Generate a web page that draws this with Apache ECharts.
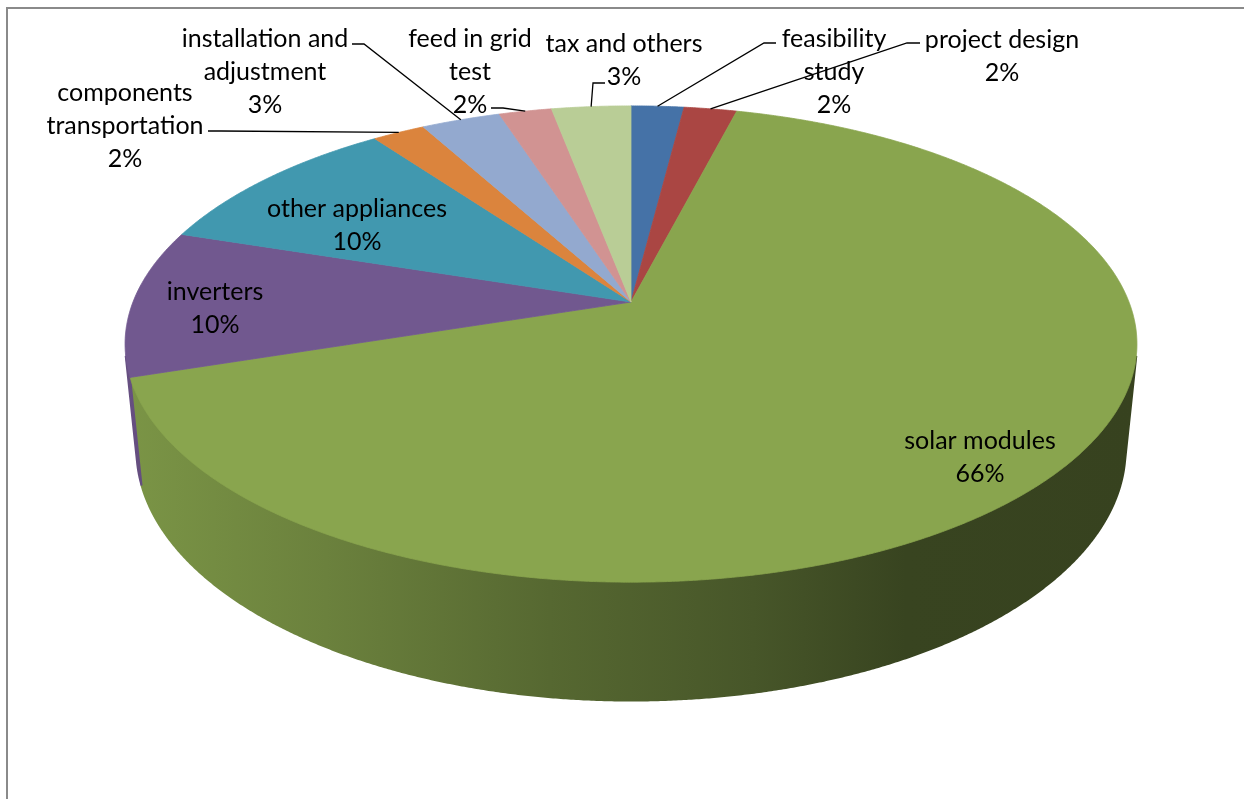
<!DOCTYPE html>
<html>
<head>
<meta charset="utf-8">
<script src="https://cdn.jsdelivr.net/npm/echarts@6/dist/echarts.min.js"></script>
<style>
  html, body { margin: 0; padding: 0; background: #ffffff; }
  #chart { width: 1244px; height: 799px; }
</style>
</head>
<body>
<div id="chart"></div>
<script>
// Cost breakdown of a PV installation (percent of total)
const categories = [
  'feasibility study', 'project design', 'solar modules', 'inverters',
  'other appliances', 'components transportation', 'installation and adjustment',
  'feed in grid test', 'tax and others'
];
const shares = [2, 2, 66, 10, 10, 2, 3, 2, 3];
const labelLines = [
  ['feasibility', 'study'], ['project design'], ['solar modules'], ['inverters'],
  ['other appliances'], ['components', 'transportation'], ['installation and', 'adjustment'],
  ['feed in grid', 'test'], ['tax and others']
];
const colors = ['#4572A7', '#AA4643', '#89A54E', '#71588F', '#4198AF', '#DB843D', '#93A9CF', '#D19392', '#B9CD96'];

// 3D disc geometry: centre of the top face, radius, thickness, tilt and eye distance
const pie = { cx: 631, cy: 302, radius: 498, depth: 120, tiltDeg: 27.6, eye: 2501 };

// label blocks (centre of text) and leader-line start/elbow for the small slices
const labelLayout = {
  'feasibility study':           { at: [834, 72],  leader: [[776, 43], [764, 43]] },
  'project design':              { at: [1002, 56], leader: [[920, 43], [907, 43]] },
  'solar modules':               { at: [980, 457] },
  'inverters':                   { at: [215, 308] },
  'other appliances':            { at: [357, 225] },
  'components transportation':   { at: [125, 126], leader: [[208, 131], [221, 131]] },
  'installation and adjustment': { at: [265, 72],  leader: [[352, 44], [364, 44]] },
  'feed in grid test':           { at: [470, 72],  leader: [[491, 108], [503, 108]] },
  'tax and others':              { at: [624, 60],  leader: [[605, 83], [593, 83]] }
};

const FONT = '25px Lato';
const LINE_H = 33;

const tilt = pie.tiltDeg * Math.PI / 180;
const sinE = Math.sin(tilt), cosE = Math.cos(tilt);
const TAU = Math.PI * 2;

// theta: clockwise from 12 o'clock; h: height (0 = top face, negative = below)
function project(theta, r, h) {
  const X = r * Math.sin(theta);
  const Z = -r * Math.cos(theta);
  const v = h * cosE - Z * sinE;
  const w = h * sinE + Z * cosE;
  const s = pie.eye / (pie.eye - w);
  return [pie.cx + X * s, pie.cy - v * s];
}

const total = shares.reduce((a, b) => a + b, 0);
function sliceAngles(i) {
  let before = 0;
  for (let k = 0; k < i; k++) before += shares[k];
  return [before / total * TAU, (before + shares[i]) / total * TAU];
}

function arc(t1, t2, h, out) {
  const n = Math.max(2, Math.ceil((t2 - t1) / (0.25 * Math.PI / 180)));
  for (let k = 0; k <= n; k++) out.push(project(t1 + (t2 - t1) * k / n, pie.radius, h));
  return out;
}

function shade(hex, f) {
  const n = parseInt(hex.slice(1), 16);
  const c = [(n >> 16) & 255, (n >> 8) & 255, n & 255].map(v => Math.round(v * f));
  return 'rgb(' + c.join(',') + ')';
}

// outer wall faces the eye where cos(theta) < -R / (D cos e)
const wallFrom = Math.acos(-pie.radius / (pie.eye * cosE));
const wallTo = TAU - wallFrom;
const xLeft = pie.cx - pie.radius * 1.02, xRight = pie.cx + pie.radius * 1.02;
const wallShade = [[0, 0.9], [0.2, 0.78], [0.42, 0.63], [0.62, 0.52], [0.77, 0.41], [1, 0.4]];

const seriesData = shares.map((v, i) => ({ name: categories[i], value: v }));

function renderWall(params, api) {
  const i = params.dataIndex;
  let [t1, t2] = sliceAngles(i);
  t1 = Math.max(t1, wallFrom); t2 = Math.min(t2, wallTo);
  if (t2 <= t1) return { type: 'group', children: [] };
  const pts = arc(t1, t2, 0, []);
  const bottom = arc(t1, t2, -pie.depth, []).reverse();
  const grad = {
    type: 'linear', x: xLeft, y: 0, x2: xRight, y2: 0, global: true,
    colorStops: wallShade.map(([o, f]) => ({ offset: o, color: shade(colors[i], f) }))
  };
  return {
    type: 'polygon',
    shape: { points: pts.concat(bottom) },
    style: { fill: grad, stroke: grad, lineWidth: 2 }
  };
}

function renderTop(params, api) {
  const i = params.dataIndex;
  const [t1, t2] = sliceAngles(i);
  const pts = [[pie.cx, pie.cy]];
  arc(t1, t2, 0, pts);
  return {
    type: 'polygon',
    shape: { points: pts },
    style: { fill: colors[i], stroke: colors[i], lineWidth: 0.8 }
  };
}

function renderLabel(params, api) {
  const i = params.dataIndex;
  const lay = labelLayout[categories[i]];
  const [t1, t2] = sliceAngles(i);
  const text = labelLines[i].concat([api.value(0) + '%']).join('\n');
  const children = [{
    type: 'text',
    style: {
      text: text, x: lay.at[0], y: lay.at[1],
      align: 'center', verticalAlign: 'middle',
      font: FONT, lineHeight: LINE_H, fill: '#000000'
    }
  }];
  if (lay.leader) {
    const anchor = project((t1 + t2) / 2, pie.radius, 0);
    children.push({
      type: 'polyline',
      shape: { points: lay.leader.concat([anchor]) },
      style: { stroke: '#000000', lineWidth: 1.3, fill: null }
    });
  }
  return { type: 'group', children: children };
}

const chart = echarts.init(document.getElementById('chart'), null, { renderer: 'canvas' });
chart.setOption({
  backgroundColor: '#ffffff',
  animation: false,
  graphic: [{
    type: 'rect', silent: true, z: 0,
    shape: { x: 7, y: 8, width: 1300, height: 900 },
    style: { fill: 'none', stroke: '#8a8a8a', lineWidth: 2 }
  }],
  series: [
    { type: 'custom', name: 'wall', coordinateSystem: 'none', z: 1, silent: true, data: seriesData, renderItem: renderWall },
    { type: 'custom', name: 'top', coordinateSystem: 'none', z: 2, silent: true, data: seriesData, renderItem: renderTop },
    { type: 'custom', name: 'labels', coordinateSystem: 'none', z: 3, silent: true, data: seriesData, renderItem: renderLabel }
  ]
});
</script>
</body>
</html>
